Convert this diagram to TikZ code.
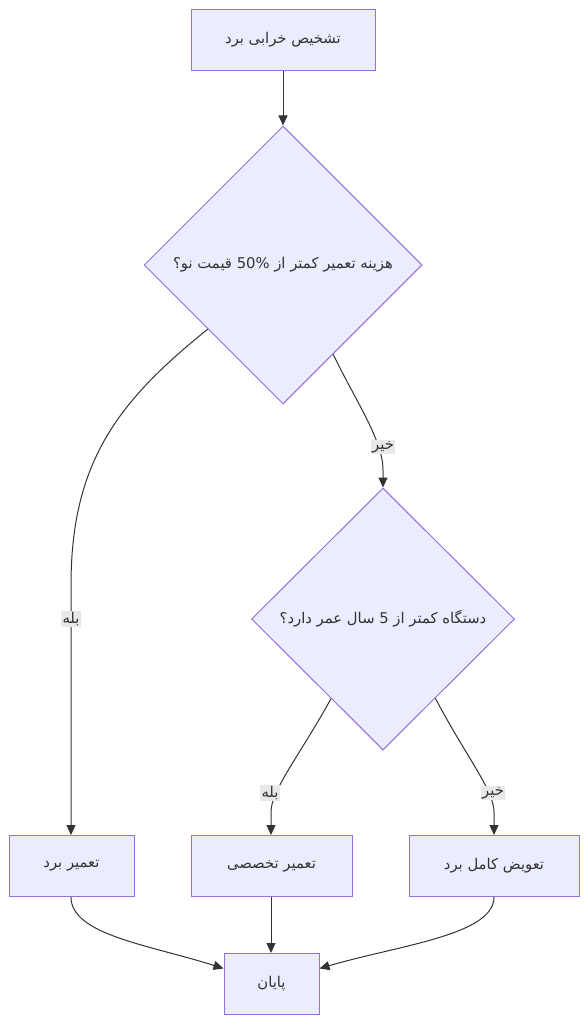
\documentclass[tikz,border=0pt]{standalone}
\usepackage{fontspec}
\usetikzlibrary{shapes.geometric,arrows.meta,calc}
\TeXXeTstate=1
\newfontfamily\arabicfont[Script=Arabic]{DejaVu Sans}
\newfontfamily\latinfont{DejaVu Sans}
\newcommand{\fatext}[1]{{\arabicfont\beginR #1\endR}}
\newcommand{\ltrnum}[1]{\beginL{\latinfont #1}\endL{}}
\definecolor{nodefill}{HTML}{ECECFF}
\definecolor{nodeline}{HTML}{9370DB}
\definecolor{edgeline}{HTML}{333333}
\definecolor{lblfill}{HTML}{E8E8E8}
\tikzset{
  box/.style={draw=nodeline, fill=nodefill, line width=1pt, minimum height=61pt, inner sep=0pt, text=edgeline, font=\fontsize{14.8}{18}\selectfont},
  decision/.style={diamond, draw=nodeline, fill=nodefill, line width=1pt, inner sep=0pt, text=edgeline, font=\fontsize{14.8}{18}\selectfont},
  lbl/.style={fill=lblfill, inner sep=1.5pt, text=edgeline, font=\fontsize{14.8}{18}\selectfont},
  conn/.style={draw=edgeline, line width=1pt, -{Triangle[length=10pt,width=9pt]}}
}
\begin{document}
\begin{tikzpicture}[x=1pt,y=-1pt]
\useasboundingbox (0,0) rectangle (588,1024);
\fill[white] (0,0) rectangle (588,1024);

\node[box, minimum width=184pt] (start) at (283,40) {\fatext{تشخیص خرابی برد}};
\node[decision, minimum width=278pt, minimum height=278pt] (d1) at (283,265) {\fatext{هزینه تعمیر کمتر از \ltrnum{50\%} قیمت نو؟}};
\node[decision, minimum width=263pt, minimum height=262pt] (d2) at (383,619) {\fatext{دستگاه کمتر از \ltrnum{5} سال عمر دارد؟}};
\node[box, minimum width=125pt] (a) at (71.5,866) {\fatext{تعمیر برد}};
\node[box, minimum width=161pt] (b) at (271.5,866) {\fatext{تعمیر تخصصی}};
\node[box, minimum width=170pt] (c) at (494,866) {\fatext{تعویض کامل برد}};
\node[box, minimum width=95pt] (fin) at (271.5,984) {\fatext{پایان}};

\coordinate (d1l) at ($(d1.west)!0.46!(d1.south)$);
\coordinate (d1r) at ($(d1.east)!0.64!(d1.south)$);
\coordinate (d2l) at ($(d2.west)!0.606!(d2.south)$);
\coordinate (d2r) at ($(d2.east)!0.603!(d2.south)$);
\coordinate (finl) at ($(fin.north west)!0.25!(fin.south west)$);
\coordinate (finr) at ($(fin.north east)!0.25!(fin.south east)$);

\draw[conn] (start.south) -- (d1.north);
\draw[conn] (d1l) .. controls (120,400) and (71,460) .. (71,585) -- (a.north -| 71,0);
\draw[conn] (d1r) .. controls (355,400) and (383,440) .. (383,470) -- (d2.north);
\draw[conn] (d2l) .. controls (300,755) and (271,790) .. (271,812) -- (b.north -| 271,0);
\draw[conn] (d2r) .. controls (465,755) and (494,790) .. (494,812) -- (c.north);
\draw[conn] (a.south -| 71,0) .. controls (71,935) and (150,945) .. (finl);
\draw[conn] (b.south -| 271,0) -- (fin.north -| 271,0);
\draw[conn] (c.south) .. controls (494,935) and (400,945) .. (finr);

\node[lbl] (l1) at (383,447) {\fatext{خیر}};
\node[lbl] (l2) at (71,619) {\fatext{بله}};
\node[lbl] (l3) at (270,793) {\fatext{بله}};
\node[lbl] (l4) at (493,793) {\fatext{خیر}};
\end{tikzpicture}
\end{document}
